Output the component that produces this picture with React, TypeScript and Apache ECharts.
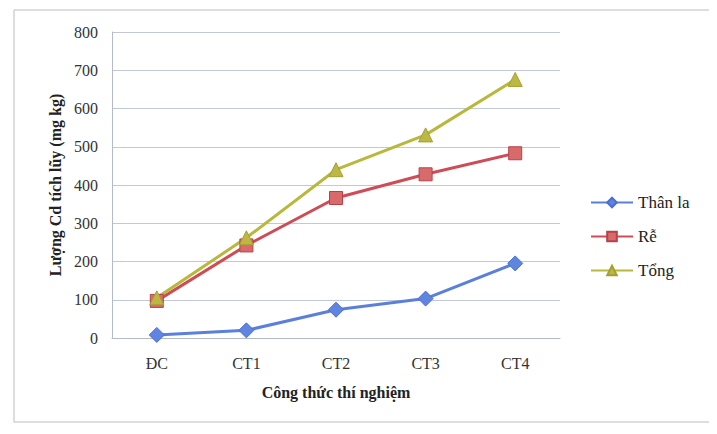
import React, { useEffect, useRef } from "react";
import * as echarts from "echarts";

const categories = ["ĐC", "CT1", "CT2", "CT3", "CT4"];
const thanLa = [8, 20, 74, 103, 195];
const re = [97, 242, 366, 428, 483];
const tong = [105, 262, 440, 531, 676];
const yTicks = { min: 0, max: 800, interval: 100 };

const FONT = "Liberation Serif";

export default function App() {
  const ref = useRef<HTMLDivElement>(null);
  useEffect(() => {
    if (!ref.current) return;
    const chart = echarts.init(ref.current, null, { renderer: "svg" });
    chart.setOption({
      animation: false,
      backgroundColor: "#ffffff",
      textStyle: { fontFamily: FONT },
      graphic: [
        {
          type: "rect",
          shape: { x: 6, y: 2, width: 696, height: 412 },
          style: { fill: "none", stroke: "#b9bcc4", lineWidth: 1 },
          silent: true,
        },
      ],
      grid: { left: 104, top: 24, width: 448, height: 306 },
      legend: {
        orient: "vertical",
        left: 577,
        top: 181,
        itemGap: 17,
        itemWidth: 42,
        itemHeight: 12,
        textStyle: { fontFamily: FONT, fontSize: 17, color: "#222" },
        data: ["Thân la", "Rễ", "Tổng"],
      },
      xAxis: {
        type: "category",
        data: categories,
        boundaryGap: true,
        name: "Công thức thí nghiệm",
        nameLocation: "middle",
        nameGap: 46,
        nameTextStyle: { fontFamily: FONT, fontSize: 16, fontWeight: "bold", color: "#222" },
        axisLine: { show: true, lineStyle: { color: "#b5bac8", width: 1 } },
        axisTick: { show: false },
        axisLabel: { fontFamily: FONT, fontSize: 16, color: "#333", margin: 17 },
      },
      yAxis: {
        type: "value",
        min: yTicks.min,
        max: yTicks.max,
        interval: yTicks.interval,
        name: "Lượng Cd tích lũy (mg kg)",
        nameLocation: "middle",
        nameGap: 44,
        nameTextStyle: { fontFamily: FONT, fontSize: 16, fontWeight: "bold", color: "#222" },
        axisLine: { show: true, lineStyle: { color: "#b5bac8", width: 1 } },
        axisTick: { show: false },
        axisLabel: { fontFamily: FONT, fontSize: 16, color: "#333", margin: 14 },
        splitLine: { show: true, lineStyle: { color: "#c3c8d6", width: 1 } },
      },
      series: [
        {
          name: "Thân la",
          type: "line",
          data: thanLa,
          symbol: "diamond",
          symbolSize: 15,
          lineStyle: { color: "#5a7fdc", width: 3 },
          itemStyle: { color: "#5f85e0", borderColor: "#4a70cc", borderWidth: 1 },
        },
        {
          name: "Rễ",
          type: "line",
          data: re,
          symbol: "rect",
          symbolSize: 13,
          lineStyle: { color: "#cf4b55", width: 3 },
          itemStyle: { color: "#d86a6a", borderColor: "#b8404a", borderWidth: 1 },
        },
        {
          name: "Tổng",
          type: "line",
          data: tong,
          symbol: "triangle",
          symbolSize: 14,
          lineStyle: { color: "#b8b83c", width: 3 },
          itemStyle: { color: "#bdb844", borderColor: "#a4a030", borderWidth: 1 },
        },
      ],
    });
    return () => chart.dispose();
  }, []);
  return <div ref={ref} style={{ width: 717, height: 434 }} />;
}
